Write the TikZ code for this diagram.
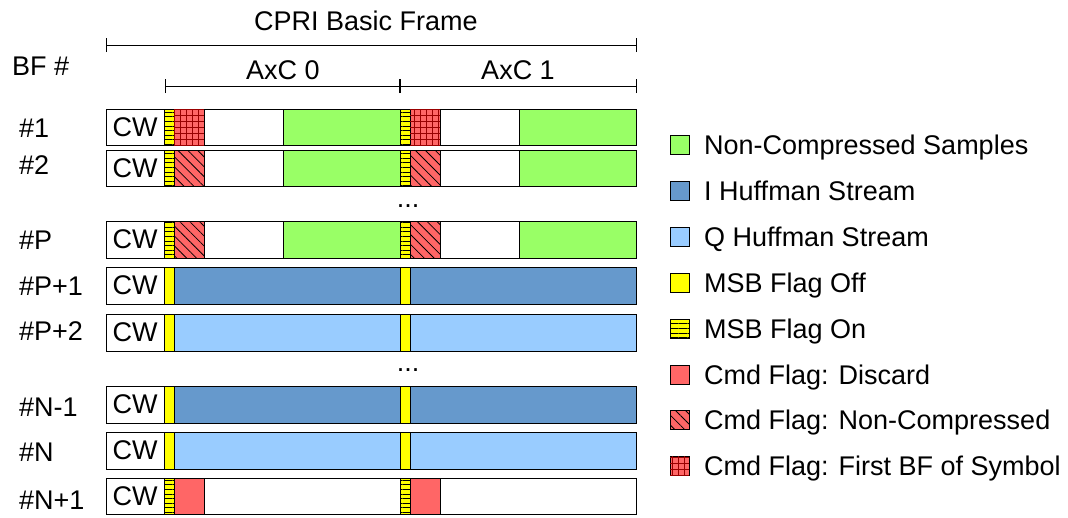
\documentclass[tikz,border=0pt]{standalone}
\usepackage{fontspec}
\setmainfont{Liberation Sans}
\usetikzlibrary{patterns.meta}
\definecolor{ncgreen}{HTML}{99FF66}
\definecolor{ihuff}{HTML}{6699CC}
\definecolor{qhuff}{HTML}{99CCFF}
\definecolor{flagyel}{HTML}{FFFF00}
\definecolor{cmdred}{HTML}{FF6666}
\definecolor{gridred}{HTML}{990000}
\tikzset{
  txt/.style={font=\fontsize{27}{32}\selectfont, inner sep=0pt},
  seg/.style={draw=black, line width=1pt},
  msboff/.style={fill=flagyel},
  msbon/.style={fill=flagyel, postaction={pattern={Lines[angle=0,distance=4.6pt,line width=0.8pt]}, pattern color=black}},
  cmddis/.style={fill=cmdred},
  cmdnc/.style={fill=cmdred, postaction={pattern={Lines[angle=-45,distance=7pt,line width=0.8pt]}, pattern color=black}},
  cmdfirst/.style={fill=cmdred, postaction={pattern={Hatch[angle=0,distance=6pt,line width=0.6pt]}, pattern color=gridred}},
  bracket/.style={draw=black, line width=1pt},
}
% compressed-sample row: #1 name, #2 top, #3 bottom, #4 cmd style
\newcommand{\cmprow}[4]{%
  \draw[seg] (106,#2) rectangle (164,#3);
  \node[txt] (#1cw) at (135,{(#2+#3)/2}) {CW};
  \foreach \o in {0,236}{%
    \draw[seg,msbon] (164+\o,#2) rectangle (174+\o,#3);
    \draw[seg,#4] (174+\o,#2) rectangle (204+\o,#3);
    \draw[seg] (204+\o,#2) rectangle (283+\o,#3);
    \draw[seg,fill=ncgreen] (283+\o,#2) rectangle (400+\o,#3);
  }%
}
% huffman row: #1 name, #2 top, #3 bottom, #4 colour
\newcommand{\huffrow}[4]{%
  \draw[seg] (106,#2) rectangle (164,#3);
  \node[txt] (#1cw) at (135,{(#2+#3)/2}) {CW};
  \foreach \o in {0,236}{%
    \draw[seg,msboff] (164+\o,#2) rectangle (174+\o,#3);
    \draw[seg,fill=#4] (174+\o,#2) rectangle (400+\o,#3);
  }%
}
% last row
\newcommand{\lastrow}[3]{%
  \draw[seg] (106,#2) rectangle (164,#3);
  \node[txt] (#1cw) at (135,{(#2+#3)/2}) {CW};
  \foreach \o in {0,236}{%
    \draw[seg,msbon] (164+\o,#2) rectangle (174+\o,#3);
    \draw[seg,cmddis] (174+\o,#2) rectangle (204+\o,#3);
    \draw[seg] (204+\o,#2) rectangle (400+\o,#3);
  }%
}
\newcommand{\legitem}[4]{% #1 name, #2 y, #3 style, #4 text
  \draw[seg,#3] (670,#2-9.5) rectangle (689,#2+9.5);
  \node[txt, anchor=base west] (#1) at (704,#2+9.7) {#4};
}
\begin{document}
\begin{tikzpicture}[x=1pt,y=-1pt]
\useasboundingbox (0,0) rectangle (1068,517);
\fill[white] (0,0) rectangle (1068,517);

% header
\node[txt] (title) at (366,21) {CPRI Basic Frame};
\coordinate (bfl) at (106,45);
\coordinate (bfr) at (636,45);
\draw[bracket] (bfl) -- (bfr);
\draw[bracket] ([yshift=-7pt]bfl) -- ([yshift=7pt]bfl);
\draw[bracket] ([yshift=-7pt]bfr) -- ([yshift=7pt]bfr);

\node[txt, anchor=west] (bfhash) at (12,66) {BF \#};

\node[txt] (axc0) at (283,70) {AxC 0};
\node[txt] (axc1) at (518,70) {AxC 1};
\coordinate (al) at (165,86);
\coordinate (am) at (400,86);
\coordinate (ar) at (636,86);
\draw[bracket] (al) -- (ar);
\draw[bracket] ([yshift=-7pt]al) -- ([yshift=7pt]al);
\draw[bracket, line width=2.5pt] ([yshift=-7pt]am) -- ([yshift=7pt]am);
\draw[bracket] ([yshift=-7pt]ar) -- ([yshift=7pt]ar);

% rows
\cmprow{r1}{109}{145}{cmdfirst}
\cmprow{r2}{150}{186}{cmdnc}
\cmprow{rp}{221}{258}{cmdnc}
\huffrow{rp1}{267}{304}{ihuff}
\huffrow{rp2}{314}{351}{qhuff}
\huffrow{rn1}{386}{423}{ihuff}
\huffrow{rn}{432}{469}{qhuff}
\lastrow{rn2}{478}{514}

\node[txt] (dots1) at (408,206) {...};
\node[txt] (dots2) at (408,370) {...};

% row labels
\node[txt, anchor=west] (l1) at (19,128) {\#1};
\node[txt, anchor=west] (l2) at (19,165) {\#2};
\node[txt, anchor=west] (lp) at (19,240) {\#P};
\node[txt, anchor=west] (lp1) at (19,286) {\#P+1};
\node[txt, anchor=west] (lp2) at (19,331) {\#P+2};
\node[txt, anchor=west] (ln1) at (19,407) {\#N-1};
\node[txt, anchor=west] (ln) at (19,452) {\#N};
\node[txt, anchor=west] (ln2) at (19,500) {\#N+1};

% legend
\legitem{g0}{145}{fill=ncgreen}{Non-Compressed Samples}
\legitem{g1}{191}{fill=ihuff}{I Huffman Stream}
\legitem{g2}{237}{fill=qhuff}{Q Huffman Stream}
\legitem{g3}{283}{msboff}{MSB Flag Off}
\legitem{g4}{329}{msbon}{MSB Flag On}
\legitem{g5}{375}{cmddis}{Cmd Flag: Discard}
\legitem{g6}{420}{cmdnc}{Cmd Flag: Non-Compressed}
\legitem{g7}{466}{cmdfirst}{Cmd Flag: First BF of Symbol}
\end{tikzpicture}
\end{document}
